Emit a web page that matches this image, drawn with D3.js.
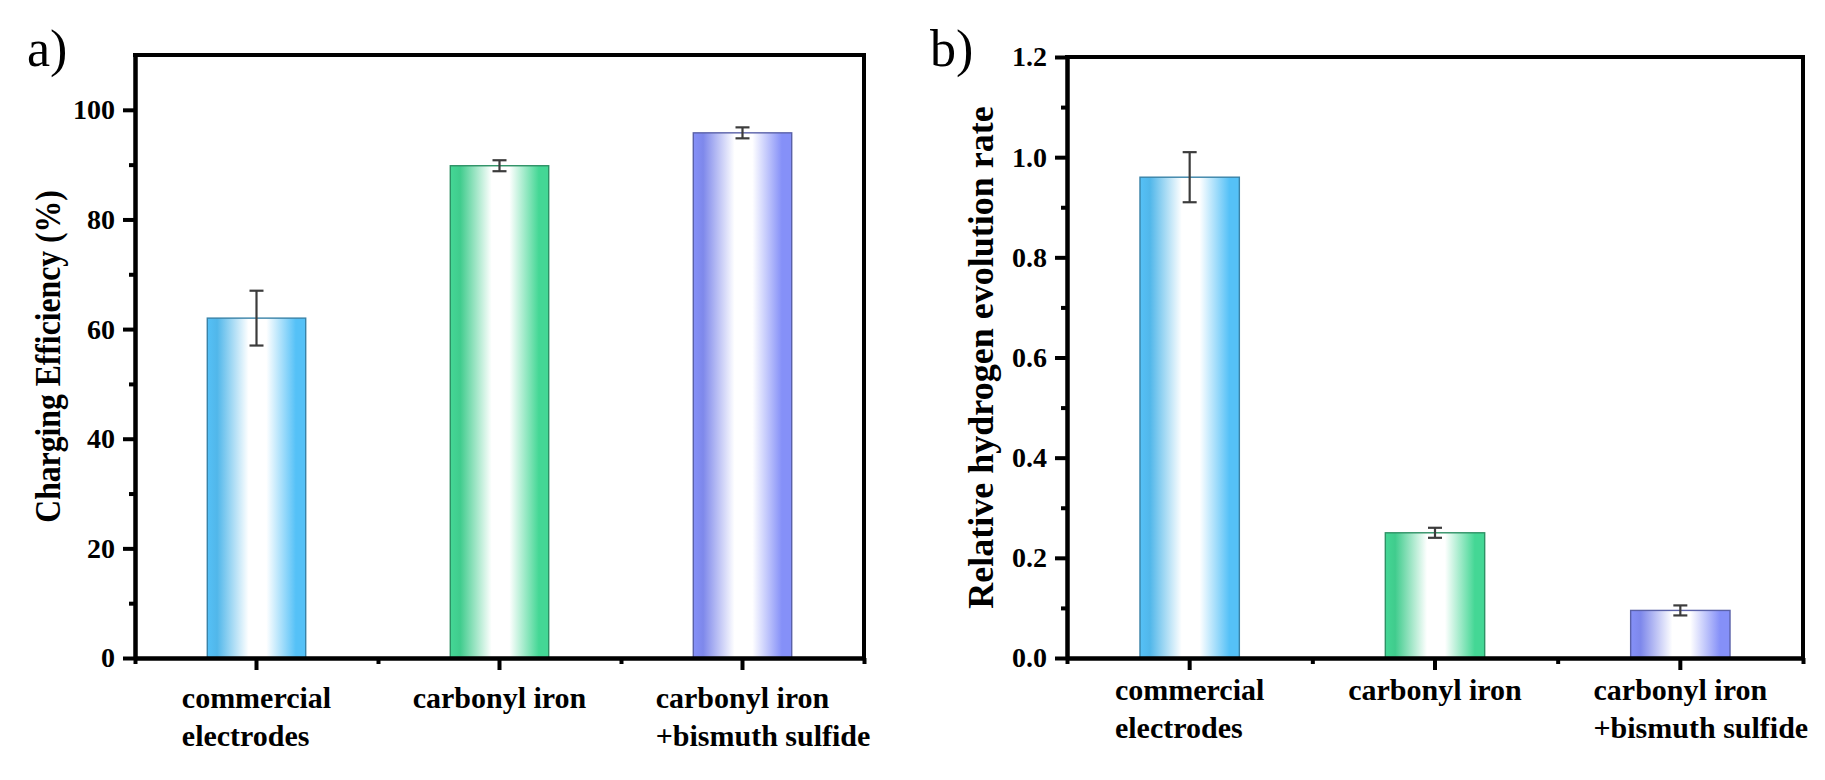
<!DOCTYPE html>
<html><head><meta charset="utf-8">
<script src="https://cdn.jsdelivr.net/npm/d3@7"></script>
<style>
html,body{margin:0;padding:0;background:#fff;}
svg{display:block;}
text{font-family:"Liberation Serif","Times New Roman",serif;}
</style></head>
<body><svg id="chart" width="1825" height="780"></svg>
<script>
// ---- data ----
const categories = [["commercial","electrodes"],["carbonyl iron"],["carbonyl iron","+bismuth sulfide"]];
const barColors = ["#55c1f7","#44d795","#8590f8"];
const efficiency = [62, 89.8, 95.8];
const efficiencyErr = [5, 1, 1];
const herRate = [0.96, 0.25, 0.095];
const herRateErr = [0.05, 0.01, 0.01];
const effTicks = [0,20,40,60,80,100];
const effMinor = [10,30,50,70,90];
const herTicks = [0,0.2,0.4,0.6,0.8,1.0,1.2];
const herMinor = [0.1,0.3,0.5,0.7,0.9,1.1];

const svg = d3.select("#chart");
const defs = svg.append("defs");
barColors.forEach((c,i)=>{
  const g = defs.append("linearGradient").attr("id","grad"+i).attr("x1","0%").attr("x2","100%").attr("y1","0%").attr("y2","0%");
  const dk = d3.color(c).darker(0.15).formatHex();
  [[0,c],[0.1,dk],[0.42,"#ffffff"],[0.6,"#ffffff"],[0.9,c],[1,c]].forEach(([o,col])=>{
    g.append("stop").attr("offset",o).attr("stop-color",col);
  });
});

function panel(opt){
  const g = svg.append("g");
  const idx = d3.range(categories.length);
  const x = d3.scaleBand().domain(idx).range([opt.x0,opt.x1]).paddingInner(0.595).paddingOuter(0.2975);
  const xl = d3.scaleLinear().domain([0,categories.length]).range([opt.x0,opt.x1]);
  const y = d3.scaleLinear().domain(opt.domain).range([opt.yb,opt.yt]);

  // bars
  g.selectAll("rect.bar").data(opt.values).join("rect").attr("class","bar")
    .attr("x",(d,i)=>x(i)).attr("width",x.bandwidth())
    .attr("y",d=>y(d)).attr("height",d=>y(0)-y(d))
    .attr("fill",(d,i)=>"url(#grad"+i+")")
    .attr("stroke",(d,i)=>d3.color(barColors[i]).darker(1.1).formatHex())
    .attr("stroke-width",1.4);

  // error bars
  const eb = g.selectAll("g.err").data(opt.values).join("g").attr("class","err")
    .attr("stroke","#3c3c3c").attr("stroke-width",2.2);
  eb.append("line").attr("x1",(d,i)=>x(i)+x.bandwidth()/2).attr("x2",(d,i)=>x(i)+x.bandwidth()/2)
    .attr("y1",(d,i)=>y(d+opt.errs[i])).attr("y2",(d,i)=>y(d-opt.errs[i]));
  [1,-1].forEach(s=>{
    eb.append("line").attr("x1",(d,i)=>x(i)+x.bandwidth()/2-7).attr("x2",(d,i)=>x(i)+x.bandwidth()/2+7)
      .attr("y1",(d,i)=>y(d+s*opt.errs[i])).attr("y2",(d,i)=>y(d+s*opt.errs[i]));
  });

  // frame top/right
  g.append("path").attr("d",`M${opt.x0},${opt.yt}H${opt.x1}V${opt.yb}`)
    .attr("fill","none").attr("stroke","#000").attr("stroke-width",4).attr("stroke-linecap","square");

  // y axis
  const ya = g.append("g").attr("transform",`translate(${opt.x0},0)`)
    .call(d3.axisLeft(y).tickValues(opt.ticks).tickFormat(opt.fmt).tickSize(12).tickSizeOuter(0).tickPadding(8));
  const ym = g.append("g").attr("transform",`translate(${opt.x0},0)`)
    .call(d3.axisLeft(y).tickValues(opt.minor).tickFormat("").tickSize(6).tickSizeOuter(0));
  [ya,ym].forEach(a=>{a.selectAll("line").attr("stroke","#000").attr("stroke-width",4);
    a.select(".domain").attr("stroke","#000").attr("stroke-width",4);});
  ya.selectAll("text").attr("font-size",28).attr("font-weight","bold").attr("fill","#000")
    .attr("font-family","Liberation Serif");

  // x axis
  const xa = g.append("g").attr("transform",`translate(0,${opt.yb})`)
    .call(d3.axisBottom(x).tickSize(12).tickSizeOuter(0).tickFormat(""));
  const xm = g.append("g").attr("transform",`translate(0,${opt.yb})`)
    .call(d3.axisBottom(xl).tickValues(d3.range(categories.length+1)).tickSize(6).tickSizeOuter(0).tickFormat(""));
  [xa,xm].forEach(a=>{a.selectAll("line").attr("stroke","#000").attr("stroke-width",4);
    a.select(".domain").attr("stroke","#000").attr("stroke-width",4);});

  // category labels: left-aligned lines, first line centred on tick
  categories.forEach((lines,i)=>{
    const cx = x(i)+x.bandwidth()/2;
    const t = g.append("text").attr("font-size",30).attr("font-weight","bold").attr("fill","#000");
    lines.forEach((ln,j)=>{
      t.append("tspan").attr("x",0).attr("y",opt.labY + j*38).text(ln);
    });
    const w0 = t.select("tspan").node().getComputedTextLength();
    t.selectAll("tspan").attr("x",cx - w0/2);
  });

  // y title
  g.append("text").attr("transform",`translate(${opt.titleX},${(opt.yt+opt.yb)/2}) rotate(-90) scale(${opt.titleScale},1)`)
    .attr("text-anchor","middle").attr("font-size",opt.titleSize).attr("font-weight","bold").attr("fill","#000")
    .text(opt.title);

  // panel letter
  g.append("text").attr("x",opt.letterX).attr("y",66).attr("font-size",52).attr("fill","#000").text(opt.letter);
}

panel({x0:135,x1:864,yt:55,yb:658,domain:[0,110],values:efficiency,errs:efficiencyErr,
  ticks:effTicks,minor:effMinor,fmt:d3.format("d"),labY:708,title:"Charging Efficiency (%)",titleSize:36,titleScale:0.88,titleX:60,letter:"a)",letterX:27});
panel({x0:1067,x1:1803,yt:57,yb:658,domain:[0,1.2],values:herRate,errs:herRateErr,
  ticks:herTicks,minor:herMinor,fmt:d3.format(".1f"),labY:700,title:"Relative hydrogen evolution rate",titleSize:36,titleScale:1,titleX:993,letter:"b)",letterX:930});
</script></body></html>
